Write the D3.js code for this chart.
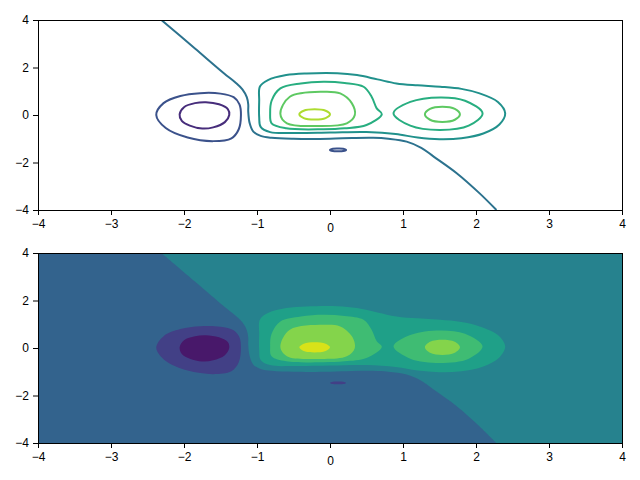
<!DOCTYPE html>
<html>
<head>
<meta charset="utf-8">
<script src="https://cdn.jsdelivr.net/npm/d3@7"></script>
<style>
  body { margin: 0; background: #fff; }
  text { font-family: "Liberation Sans Narrow", "Liberation Sans", Arial, sans-serif; }
</style>
</head>
<body>
<div id="place"></div>
<script>
// tick values
const xTicks = [-4, -3, -2, -1, 0, 1, 2, 3, 4];
const yTicks = [-4, -2, 0, 2, 4];

// contour lines, in data units [x, y]
// level 1 : inner loop of the low on the left
const loopA = [[-2.06, 0.03], [-2.0, 0.33], [-1.85, 0.5], [-1.7, 0.54], [-1.52, 0.45], [-1.4, 0.25], [-1.38, 0.0], [-1.44, -0.3], [-1.6, -0.52], [-1.75, -0.57], [-1.92, -0.45], [-2.03, -0.25]];
// level 2 : outer loop of the low + small blob
const loopB = [[-2.38, 0.0], [-2.28, 0.5], [-2.05, 0.8], [-1.78, 0.92], [-1.5, 0.9], [-1.32, 0.75], [-1.24, 0.45], [-1.22, 0.0], [-1.25, -0.6], [-1.35, -0.98], [-1.6, -1.1], [-1.95, -0.95], [-2.25, -0.55]];
const blobB = [[0.0, -1.47], [0.04, -1.42], [0.11, -1.41], [0.18, -1.42], [0.22, -1.47], [0.18, -1.52], [0.11, -1.53], [0.04, -1.52]];
// level 3 : line that splits the plane
const dividerC = [[-2.31, 4], [-1.85, 2.8], [-1.45, 1.75], [-1.3, 1.38], [-1.2, 1.08], [-1.14, 0.75], [-1.12, 0.45], [-1.12, 0.14], [-1.1, -0.35], [-1.05, -0.7], [-0.95, -0.88], [-0.8, -0.96], [-0.5, -1.0], [0, -1.0], [0.3, -0.97], [0.59, -0.96], [0.8, -1.0], [1.05, -1.12], [1.25, -1.38], [1.42, -1.75], [1.74, -2.46], [2.05, -3.3], [2.28, -4]];
// level 4 : loop round both highs
const loopD = [[-0.96, 1.2], [-0.85, 1.47], [-0.6, 1.68], [-0.32, 1.75], [0.1, 1.76], [0.37, 1.68], [0.65, 1.5], [0.91, 1.33], [1.2, 1.25], [1.51, 1.19], [1.8, 1.1], [2.05, 0.91], [2.3, 0.55], [2.4, 0.07], [2.32, -0.4], [2.1, -0.78], [1.8, -0.98], [1.5, -1.02], [1.2, -0.95], [0.9, -0.8], [0.5, -0.72], [0.0, -0.74], [-0.5, -0.76], [-0.82, -0.72], [-0.95, -0.5], [-0.97, -0.1], [-0.97, 0.6]];
// level 5
const loopELeft = [[-0.82, 0.07], [-0.8, 0.6], [-0.68, 1.12], [-0.4, 1.33], [-0.09, 1.4], [0.2, 1.35], [0.46, 1.19], [0.57, 0.77], [0.64, 0.28], [0.71, 0.04], [0.5, -0.42], [0.2, -0.56], [-0.09, -0.6], [-0.6, -0.56], [-0.8, -0.35]];
const loopERight = [[0.87, 0.07], [1.1, 0.55], [1.51, 0.74], [1.85, 0.6], [2.09, 0.07], [1.9, -0.45], [1.51, -0.63], [1.1, -0.45]];
// level 6
const loopFLeft = [[-0.68, 0.05], [-0.55, 0.77], [-0.09, 0.98], [0.14, 0.91], [0.3, 0.49], [0.34, 0.0], [0.23, -0.35], [-0.18, -0.46], [-0.59, -0.35]];
const loopFRight = [[1.3, 0.03], [1.37, 0.26], [1.54, 0.35], [1.71, 0.26], [1.78, 0.03], [1.71, -0.2], [1.54, -0.29], [1.37, -0.2]];
// level 7
const loopG = [[-0.42, 0.03], [-0.36, 0.18], [-0.21, 0.24], [-0.06, 0.18], [0.0, 0.03], [-0.06, -0.13], [-0.21, -0.19], [-0.36, -0.13]];

const nBands = 8;

const W = 640, H = 480;
const left = 38, right = 622;
const panels = [{ top: 20, bottom: 210, filled: false }, { top: 253, bottom: 443, filled: true }];

const svg = d3.select("#place").append("svg")
    .attr("width", W)
    .attr("height", H);

const x = d3.scaleLinear().domain([-4, 4]).range([left, right]);

const shapes = [
    { pts: loopA, level: 1, closed: true },
    { pts: loopB, level: 2, closed: true },
    { pts: blobB, level: 2, closed: true },
    { pts: dividerC, level: 3, closed: false },
    { pts: loopD, level: 4, closed: true },
    { pts: loopELeft, level: 5, closed: true },
    { pts: loopERight, level: 5, closed: true },
    { pts: loopFLeft, level: 6, closed: true },
    { pts: loopFRight, level: 6, closed: true },
    { pts: loopG, level: 7, closed: true }
];

panels.forEach(function (p, i) {
    const y = d3.scaleLinear().domain([-4, 4]).range([p.bottom, p.top]);
    const g = svg.append("g");

    g.append("clipPath").attr("id", "clip" + i)
        .append("rect")
        .attr("x", left).attr("y", p.top)
        .attr("width", right - left).attr("height", p.bottom - p.top);

    const plot = g.append("g").attr("clip-path", "url(#clip" + i + ")");

    const lineOpen = d3.line().x(d => x(d[0])).y(d => y(d[1])).curve(d3.curveCatmullRom.alpha(0.5));
    const lineClosed = d3.line().x(d => x(d[0])).y(d => y(d[1])).curve(d3.curveCatmullRomClosed.alpha(0.5));

    if (p.filled) {
        // band between level 3 and 4 covers everything first
        plot.append("rect")
            .attr("x", left).attr("y", p.top)
            .attr("width", right - left).attr("height", p.bottom - p.top)
            .attr("fill", d3.interpolateViridis(3.5 / nBands));

        // lower-left side of the divider
        plot.append("path")
            .attr("d", lineOpen(dividerC) + "L" + x(-4) + "," + y(-4) + "L" + x(-4) + "," + y(4) + "Z")
            .attr("fill", d3.interpolateViridis(2.5 / nBands));

        const lows = shapes.filter(s => s.closed && s.level <= 2).sort((a, b) => b.level - a.level);
        const highs = shapes.filter(s => s.closed && s.level >= 4).sort((a, b) => a.level - b.level);

        plot.selectAll("path.low")
            .data(lows)
            .join("path")
            .attr("class", "low")
            .attr("d", d => lineClosed(d.pts))
            .attr("fill", d => d3.interpolateViridis((d.level - 0.5) / nBands));

        plot.selectAll("path.high")
            .data(highs)
            .join("path")
            .attr("class", "high")
            .attr("d", d => lineClosed(d.pts))
            .attr("fill", d => d3.interpolateViridis((d.level + 0.5) / nBands));
    } else {
        plot.selectAll("path.line")
            .data(shapes)
            .join("path")
            .attr("class", "line")
            .attr("d", d => d.closed ? lineClosed(d.pts) : lineOpen(d.pts))
            .attr("fill", "none")
            .attr("stroke", d => d3.interpolateViridis(d.level / nBands))
            .attr("stroke-width", 2);
    }

    // frame
    g.append("rect")
        .attr("x", left).attr("y", p.top)
        .attr("width", right - left).attr("height", p.bottom - p.top)
        .attr("fill", "none").attr("stroke", "black").attr("stroke-width", 1)
        .attr("shape-rendering", "crispEdges");

    const xAxis = g.append("g")
        .attr("transform", "translate(0," + p.bottom + ")")
        .call(d3.axisBottom(x).tickValues(xTicks).tickSize(5).tickPadding(4).tickSizeOuter(0));
    const yAxis = g.append("g")
        .attr("transform", "translate(" + left + ",0)")
        .call(d3.axisLeft(y).tickValues(yTicks).tickSize(5).tickPadding(4).tickSizeOuter(0));

    [xAxis, yAxis].forEach(function (a) {
        a.select(".domain").remove();
        a.selectAll("text").attr("font-size", 12).attr("fill", "black")
            .style("font-family", "'Liberation Sans Narrow', 'Liberation Sans', Arial, sans-serif");
        a.selectAll("line").attr("stroke", "black");
    });
    // the zero label sits a bit lower in the original
    xAxis.selectAll(".tick text").filter(d => d === 0).attr("transform", "translate(0,4)");
});
</script>
</body>
</html>
